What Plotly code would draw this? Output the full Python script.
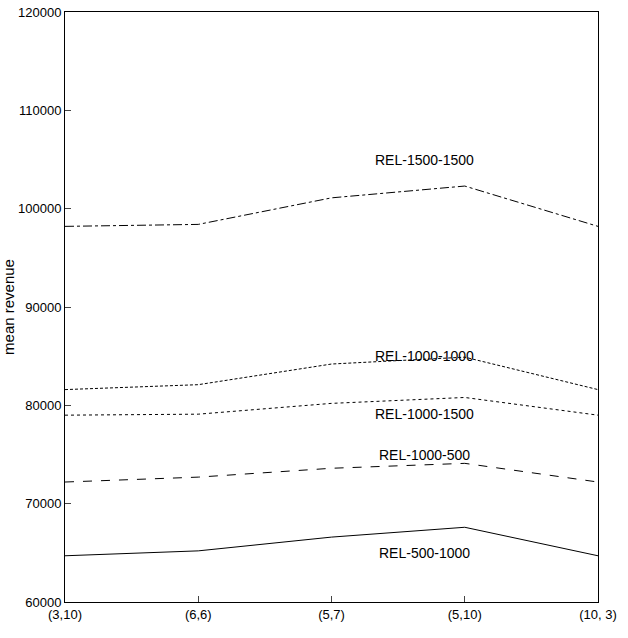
import plotly.graph_objects as go

categories = ["(3,10)", "(6,6)", "(5,7)", "(5,10)", "(10, 3)"]
rel_1500_1500 = [98200, 98400, 101100, 102300, 98200]
rel_1000_1000 = [81600, 82100, 84200, 84900, 81600]
rel_1000_1500 = [79000, 79100, 80200, 80800, 79000]
rel_1000_500 = [72200, 72700, 73600, 74100, 72200]
rel_500_1000 = [64700, 65200, 66600, 67600, 64700]

series = [
    ("REL-1500-1500", rel_1500_1500, "dashdot", 105000),
    ("REL-1000-1000", rel_1000_1000, "3px,2px", 85000),
    ("REL-1000-1500", rel_1000_1500, "dot", 79100),
    ("REL-1000-500", rel_1000_500, "dash", 75000),
    ("REL-500-1000", rel_500_1000, "solid", 65000),
]

xs = list(range(len(categories)))
fig = go.Figure()
for name, vals, dash, label_y in series:
    fig.add_trace(go.Scatter(x=xs, y=vals, mode="lines", name=name,
                             line=dict(color="black", width=1, dash=dash)))
    fig.add_annotation(x=2.7, y=label_y, text=name, showarrow=False,
                       font=dict(size=14, color="black"))

fig.update_layout(
    width=628, height=638, showlegend=False,
    plot_bgcolor="white", paper_bgcolor="white",
    margin=dict(l=65, r=30, t=12, b=36),
    font=dict(family="Liberation Sans, Arial, sans-serif", size=13, color="black"),
)
fig.update_xaxes(range=[0, 4], tickvals=xs, ticktext=categories, showgrid=False,
                 showline=True, linecolor="black", mirror=True, ticks="inside",
                 ticklen=6, zeroline=False, automargin=False)
fig.update_yaxes(range=[60000, 120000], dtick=10000, tickformat="d", showgrid=False,
                 showline=True, linecolor="black", mirror=True, ticks="inside",
                 ticklen=6, zeroline=False, automargin=False,
                 title=dict(text="mean revenue", standoff=10, font=dict(size=15)))
# drop the browser's default body margin so the figure fills the window
fig.write_html("out.html", config={"displayModeBar": False},
               post_script="document.body.style.margin='0';")
